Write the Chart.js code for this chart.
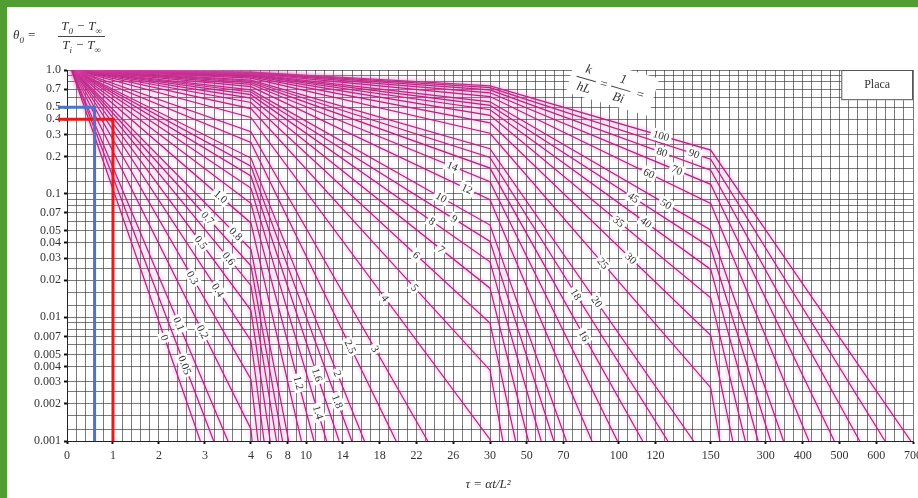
<!DOCTYPE html>
<html>
<head>
<meta charset="utf-8">
<script src="https://cdn.jsdelivr.net/npm/chart.js@4.4.1/dist/chart.umd.min.js"></script>
<style>
  html, body { margin: 0; padding: 0; }
  body {
    width: 918px; height: 498px; overflow: hidden; position: relative;
    background: #519c33;
    font-family: "Liberation Serif", "DejaVu Serif", serif;
  }
  #panel { position: absolute; left: 7px; top: 7px; width: 911px; height: 491px; background: #fff; }
  #chart { position: absolute; left: 0; top: 0; }
  #formula {
    position: absolute; left: 6px; top: 11px; font-size: 13px; color: #333;
    font-style: italic; white-space: nowrap;
  }
  #formula .frac { display: inline-block; vertical-align: middle; text-align: center; margin-left: 19px; }
  #formula .frac span { display: block; padding: 0 3px; }
  #formula .frac .num { border-bottom: 1px solid #444; }
  #formula sub { font-size: 9px; }
  #xtitle {
    position: absolute; left: 381px; width: 200px; top: 469px; text-align: center;
    font-size: 13px; color: #333; font-style: italic; white-space: nowrap;
  }
</style>
</head>
<body>
<div id="panel">
  <canvas id="chart" width="911" height="491"></canvas>
  <div id="formula">θ<sub>0</sub> = <span class="frac"><span class="num">T<sub>0</sub> − T<sub>∞</sub></span><span class="den">T<sub>i</sub> − T<sub>∞</sub></span></span></div>
  <div id="xtitle">τ = αt/L²</div>
</div>
<script>
// Curvas de 1/Bi (placa plana)
const invBi = ['0', '0.05', '0.1', '0.2', '0.3', '0.4', '0.5', '0.6', '0.7', '0.8',
  '1.0', '1.2', '1.4', '1.6', '1.8', '2', '2.5', '3', '4', '5', '6', '7', '8', '9', '10',
  '12', '14', '16', '18', '20', '25', '30', '35', '40', '45', '50', '60', '70', '80', '90', '100'];

// tau onde a curva sai de theta = 1.0
const tauStart = [0.10, 0.11, 0.11, 0.12, 0.13, 0.14, 0.14, 0.15, 0.15, 0.15,
  0.15, 0.15, 0.16, 0.16, 0.16, 0.16, 0.16, 0.16, 0.16, 0.16, 0.16, 0.17, 0.17, 0.17, 0.17,
  0.17, 0.17, 0.17, 0.17, 0.17, 0.17, 0.17, 0.17, 0.17, 0.17, 0.17, 0.17, 0.17, 0.17, 0.17, 0.17];

// theta nas quebras de escala (tau = 4, 30, 150)
const thetaAt4 = [null, null, null, 0.00125, 0.00316, 0.00648, 0.0114, 0.0181, 0.0261, 0.0355,
  0.058, 0.0836, 0.111, 0.139, 0.167, 0.194, 0.259, 0.317, 0.413, 0.487, 0.546, 0.593, 0.632, 0.664, 0.690,
  0.733, 0.766, 0.791, 0.811, 0.828, 0.860, 0.881, 0.897, 0.909, 0.919, 0.927, 0.938, 0.947, 0.953, 0.958, 0.963];
const thetaAt30 = [null, null, null, null, null, null, null, null, null, null,
  null, null, null, null, null, null, null, null, 0.00103, 0.00374, 0.0090, 0.0172, 0.0281, 0.0411, 0.0557,
  0.0892, 0.125, 0.161, 0.196, 0.231, 0.308, 0.374, 0.430, 0.477, 0.518, 0.553, 0.610, 0.654, 0.690, 0.719, 0.743];
const thetaAt150 = [null, null, null, null, null, null, null, null, null, null,
  null, null, null, null, null, null, null, null, null, null, null, null, null, null, null,
  null, null, null, null, null, 0.0027, 0.00716, 0.0144, 0.0244, 0.0367, 0.0509, 0.0834, 0.119, 0.155, 0.190, 0.225];

// tau onde a curva chega a theta = 0.001
const tauEnd = [2.90, 3.19, 3.50, 4.13, 4.77, 5.43, 6.10, 6.78, 7.44, 8.11,
  9.49, 10.86, 12.23, 13.59, 14.97, 16.34, 19.79, 23.23, 30.1, 37.0, 43.9, 50.9, 57.8, 64.7, 71.5,
  85.4, 99.3, 113, 126.7, 140.7, 175, 210, 244, 279, 313, 348, 417, 486, 555, 624, 694];

// posição (tau) do rótulo de cada curva
const labelTau = [2.12, 2.56, 2.43, 2.95, 2.73, 3.28, 2.91, 3.52, 3.06, 3.67,
  3.34, 9.18, 11.3, 11.2, 13.4, 13.4, 14.8, 17.5, 18.6, 21.8, 22.0, 24.7, 23.7, 26.1, 24.7,
  27.5, 25.9, 81, 76.7, 88, 91.4, 106.6, 100, 114.8, 108, 125.7, 116.4, 131.6, 123.5, 140.9, 123];

// linhas de leitura (azul e vermelha)
const blueTau = [-0.2, 0.6, 0.6];
const blueTheta = [0.5, 0.5, 0.001];
const redTau = [-0.2, 1.0, 1.0];
const redTheta = [0.4, 0.4, 0.001];

// eixos
const xBreaks = [0, 4, 30, 150, 700];
const xLabels = [0, 1, 2, 3, 4, 6, 8, 10, 14, 18, 22, 26, 30, 50, 70, 100, 120, 150, 300, 400, 500, 600, 700];
const yLabelValues = [1, 0.7, 0.5, 0.4, 0.3, 0.2, 0.1, 0.07, 0.05, 0.04, 0.03, 0.02, 0.01,
  0.007, 0.005, 0.004, 0.003, 0.002, 0.001];
const yLabels = ['1.0', '0.7', '0.5', '0.4', '0.3', '0.2', '0.1', '0.07', '0.05', '0.04', '0.03', '0.02', '0.01',
  '0.007', '0.005', '0.004', '0.003', '0.002', '0.001'];
const yGridMult = [1, 1.25, 1.6, 2, 2.5, 3, 4, 5, 6, 7, 8, 9];

const SERIF = '"Liberation Serif", "DejaVu Serif", serif';

/**
 * Escala linear por trechos: cada trecho é 5x mais comprimido que o anterior
 */
const stretch = [1, 0.2, 0.04, 0.008];
function toU(t) {
  let u = 0;
  for (let i = 0; i < 4; i++) {
    const a = xBreaks[i], b = xBreaks[i + 1];
    if (t <= b || i === 3) return u + (t - a) * stretch[i];
    u += (b - a) * stretch[i];
  }
  return u;
}
function fromU(u) {
  let acc = 0;
  for (let i = 0; i < 4; i++) {
    const a = xBreaks[i], b = xBreaks[i + 1];
    const w = (b - a) * stretch[i];
    if (u <= acc + w || i === 3) return a + (u - acc) / stretch[i];
    acc += w;
  }
  return u;
}
const U_MAX = toU(700);

class PiecewiseScale extends Chart.LinearScale {
  buildTicks() {
    this.min = 0;
    this.max = 700;
    const ticks = [];
    const n = Math.round(U_MAX / 0.2);
    for (let i = 0; i <= n; i++) {
      ticks.push({ value: Math.round(fromU(i * 0.2) * 1000) / 1000 });
    }
    return ticks;
  }
  getPixelForValue(value) {
    return this.getPixelForDecimal(toU(value) / U_MAX);
  }
  getValueForPixel(pixel) {
    return fromU(this.getDecimalForPixel(pixel) * U_MAX);
  }
}
PiecewiseScale.id = 'piecewise';
PiecewiseScale.defaults = Chart.LinearScale.defaults;
Chart.register(PiecewiseScale);

function isXLabel(v) { return xLabels.some(l => Math.abs(l - v) < 1e-6); }
function yLabelFor(v) {
  const k = yLabelValues.findIndex(l => Math.abs(Math.log(l) - Math.log(v)) < 1e-6);
  return k >= 0 ? yLabels[k] : '';
}

// Montar os pontos de cada curva
function buildSeries(i) {
  const pts = [{ x: tauStart[i], y: 1 }];
  if (thetaAt4[i] !== null) pts.push({ x: 4, y: thetaAt4[i] });
  if (thetaAt30[i] !== null) pts.push({ x: 30, y: thetaAt30[i] });
  if (thetaAt150[i] !== null) pts.push({ x: 150, y: thetaAt150[i] });
  pts.push({ x: tauEnd[i], y: 0.001 });
  return pts;
}

const datasets = invBi.map((name, i) => ({
  label: name,
  data: buildSeries(i),
  borderColor: 'rgb(176, 36, 124)',
  borderWidth: 1.2,
  pointRadius: 0,
  showLine: true
}));

datasets.push({
  label: 'azul',
  data: blueTau.map((t, i) => ({ x: t, y: blueTheta[i] })),
  borderColor: '#4a73c9',
  borderWidth: 3,
  pointRadius: 0,
  showLine: true,
  clip: false,
  order: -1
});
datasets.push({
  label: 'vermelha',
  data: redTau.map((t, i) => ({ x: t, y: redTheta[i] })),
  borderColor: '#e8191b',
  borderWidth: 3,
  pointRadius: 0,
  showLine: true,
  clip: false,
  order: -1
});

// Brilho rosa nas curvas
const glowPlugin = {
  id: 'glow',
  beforeDatasetDraw(chart, args) {
    if (args.index >= invBi.length) return;
    const ctx = chart.ctx;
    ctx.save();
    ctx.shadowColor = 'rgba(240, 80, 190, 0.85)';
    ctx.shadowBlur = 4;
  },
  afterDatasetDraw(chart, args) {
    if (args.index >= invBi.length) return;
    chart.ctx.restore();
  }
};

// Rótulos das curvas, caixa "Placa" e legenda k/hL
const annotPlugin = {
  id: 'annotations',
  afterDatasetsDraw(chart) {
    const { ctx, chartArea, scales: { x, y } } = chart;

    // rótulos sobre as curvas
    ctx.save();
    ctx.font = '11px ' + SERIF;
    ctx.textAlign = 'center';
    ctx.textBaseline = 'middle';
    invBi.forEach((name, i) => {
      const pts = chart.data.datasets[i].data;
      const t = labelTau[i];
      let k = 0;
      while (k < pts.length - 2 && pts[k + 1].x < t) k++;
      const x1 = x.getPixelForValue(pts[k].x), y1 = y.getPixelForValue(pts[k].y);
      const x2 = x.getPixelForValue(pts[k + 1].x), y2 = y.getPixelForValue(pts[k + 1].y);
      const px = x.getPixelForValue(t);
      const py = y1 + (y2 - y1) * (px - x1) / (x2 - x1);
      const ang = Math.atan2(y2 - y1, x2 - x1);
      const w = ctx.measureText(name).width + 5;
      ctx.save();
      ctx.translate(px, py);
      ctx.rotate(ang);
      ctx.fillStyle = '#fff';
      ctx.fillRect(-w / 2, -6, w, 12);
      ctx.fillStyle = '#333';
      ctx.fillText(name, 0, 0.5);
      ctx.restore();
    });
    ctx.restore();

    // caixa "Placa"
    const bx = x.getPixelForValue(505), by = chartArea.top;
    const bw = chartArea.right - bx, bh = y.getPixelForValue(0.57) - by;
    ctx.save();
    ctx.fillStyle = '#fff';
    ctx.fillRect(bx, by, bw, bh);
    ctx.strokeStyle = '#555';
    ctx.lineWidth = 1;
    ctx.strokeRect(bx + 0.5, by + 0.5, bw - 1, bh - 1);
    ctx.fillStyle = '#333';
    ctx.font = '12px ' + SERIF;
    ctx.textAlign = 'center';
    ctx.textBaseline = 'middle';
    ctx.fillText('Placa', bx + bw / 2, by + bh / 2);
    ctx.restore();

    // k/hL = 1/Bi =
    const cx = x.getPixelForValue(97), cy = y.getPixelForValue(0.74);
    ctx.save();
    ctx.translate(cx, cy);
    ctx.rotate(16 * Math.PI / 180);
    ctx.fillStyle = '#fff';
    ctx.fillRect(-44, -20, 86, 39);
    ctx.fillStyle = '#333';
    ctx.strokeStyle = '#444';
    ctx.lineWidth = 1;
    ctx.font = 'italic 13px ' + SERIF;
    ctx.textAlign = 'center';
    ctx.textBaseline = 'middle';
    const frac = (num, den, fx) => {
      ctx.fillText(num, fx, -9);
      ctx.fillText(den, fx, 10);
      ctx.beginPath();
      ctx.moveTo(fx - 10, 0.5);
      ctx.lineTo(fx + 10, 0.5);
      ctx.stroke();
    };
    frac('k', 'hL', -28);
    ctx.fillText('=', -10, 1);
    frac('1', 'Bi', 8);
    ctx.fillText('=', 28, 1);
    ctx.restore();
  }
};

new Chart(document.getElementById('chart'), {
  type: 'scatter',
  data: { datasets },
  options: {
    responsive: false,
    animation: false,
    devicePixelRatio: 1,
    layout: { padding: { top: 63, right: 5, left: 0, bottom: 0 } },
    plugins: { legend: { display: false }, tooltip: { enabled: false } },
    scales: {
      x: {
        type: 'piecewise',
        min: 0,
        max: 700,
        afterFit: s => { s.height = 57; s.paddingLeft = 0; s.paddingRight = 0; },
        border: { display: true, color: '#222', width: 1 },
        grid: {
          color: 'rgba(40, 40, 40, 0.78)',
          lineWidth: 0.8,
          tickLength: 3,
          tickWidth: 2,
          tickColor: c => (c.tick && isXLabel(c.tick.value)) ? '#111' : 'rgba(0,0,0,0)'
        },
        ticks: {
          autoSkip: false,
          maxRotation: 0,
          padding: 5,
          color: '#333',
          font: { family: SERIF, size: 12 },
          callback: v => isXLabel(v) ? String(Math.round(v)) : ''
        }
      },
      y: {
        type: 'logarithmic',
        min: 0.001,
        max: 1,
        afterFit: s => { s.width = 60; },
        afterBuildTicks: s => {
          const ticks = [];
          [0.001, 0.01, 0.1].forEach(d => yGridMult.forEach(m => ticks.push({ value: d * m })));
          ticks.push({ value: 1 });
          s.ticks = ticks;
        },
        border: { display: true, color: '#222', width: 1 },
        grid: {
          color: 'rgba(40, 40, 40, 0.78)',
          lineWidth: 0.8,
          tickLength: 3,
          tickWidth: 2,
          tickColor: c => (c.tick && yLabelFor(c.tick.value)) ? '#111' : 'rgba(0,0,0,0)'
        },
        ticks: {
          autoSkip: false,
          padding: 3,
          color: '#333',
          font: { family: SERIF, size: 12 },
          callback: v => yLabelFor(v)
        }
      }
    }
  },
  plugins: [glowPlugin, annotPlugin]
});
</script>
</body>
</html>
